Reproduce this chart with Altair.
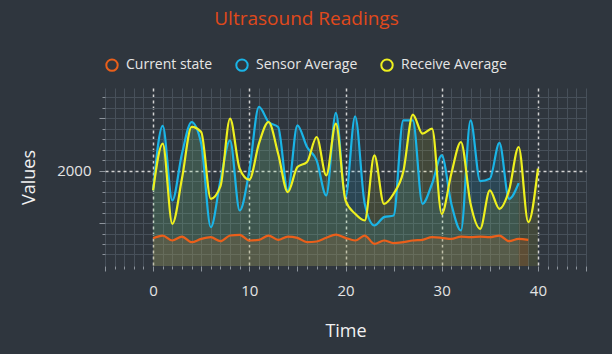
import altair as alt
import pandas as pd

# ---- data ----
series_names = ["Current state", "Sensor Average", "Receive Average"]
series_colors = ["#ea5f1a", "#1ab4e6", "#eef01e"]
series_fill_opacity = [0.16, 0.10, 0.14]

time_current = list(range(0, 40))
current_state = [711, 762, 667, 743, 635, 698, 730, 654, 762, 775,
                 667, 680, 762, 680, 743, 718, 635, 648, 718, 781,
                 718, 667, 762, 603, 667, 616, 635, 667, 680, 730,
                 718, 698, 743, 730, 743, 730, 762, 654, 698, 680]

time_sensor = list(range(0, 39))
sensor_avg = [1624, 2855, 1432, 2325, 2930, 2520, 922, 1815, 2580, 1240,
              2000, 3219, 2931, 2836, 1624, 2868, 2453, 2198, 1528, 3104,
              1496, 3040, 1368, 954, 1113, 1145, 2963, 2963, 1368, 1751,
              2293, 1368, 858, 2963, 1802, 1847, 2530, 1464, 1764]

time_receive = list(range(0, 41))
receive_avg = [1624, 2517, 985, 1850, 2836, 2740, 1464, 1700, 2995, 2038,
               1828, 2517, 2931, 2325, 1592, 2070, 2166, 2644, 1911, 2900,
               1432, 1177, 1049, 2293, 1368, 1560, 1975, 3072, 2708, 2804,
               1177, 1943, 2549, 1368, 890, 1624, 1273, 1624, 2453, 1017,
               2038]

x_ticks = list(range(-5, 46))
y_ticks = list(range(400, 3600, 200))

rows = []
for name, ts, vs in [("Current state", time_current, current_state),
                     ("Sensor Average", time_sensor, sensor_avg),
                     ("Receive Average", time_receive, receive_avg)]:
    for t, v in zip(ts, vs):
        rows.append({"Time": t, "Value": v, "Series": name})
df = pd.DataFrame(rows)

FONT = "Open Sans"
GRID = "#47505a"
DASH = "#d2d2d2"

x_enc = alt.X(
    "Time:Q",
    scale=alt.Scale(domain=[-5, 45], nice=False, zero=False),
    axis=alt.Axis(
        title="Time",
        values=x_ticks,
        labelExpr="datum.value % 10 === 0 && datum.value >= 0 && datum.value <= 40 ? datum.label : ''",
        labelFont=FONT, labelFontSize=15, labelColor="#e4e4e4",
        labelPadding=12,
        titleFont=FONT, titleFontSize=18, titleFontWeight="normal",
        titleColor="#f2f2f2", titlePadding=24,
        domain=False,
        tickColor="#8d949c",
        tickSize={"condition": {"test": "datum.value % 5 === 0", "value": 5}, "value": 3},
        gridColor={"condition": {"test": "datum.value % 10 === 0 && datum.value >= 0 && datum.value <= 40", "value": DASH}, "value": GRID},
        gridDash={"condition": {"test": "datum.value % 10 === 0 && datum.value >= 0 && datum.value <= 40", "value": [3, 3]}, "value": []},
        gridWidth={"condition": {"test": "datum.value % 10 === 0 && datum.value >= 0 && datum.value <= 40", "value": 1.5}, "value": 1},
    ),
)

y_enc = alt.Y(
    "Value:Q",
    stack=None,
    scale=alt.Scale(domain=[180, 3580], nice=False, zero=False),
    axis=alt.Axis(
        title="Values",
        values=y_ticks,
        labelExpr="datum.value === 2000 ? datum.label : ''",
        format="d",
        labelFont=FONT, labelFontSize=15, labelColor="#e4e4e4",
        labelPadding=8,
        titleFont=FONT, titleFontSize=18, titleFontWeight="normal",
        titleColor="#f2f2f2", titlePadding=18,
        domain=False,
        tickColor="#8d949c",
        tickSize={"condition": {"test": "datum.value % 1000 === 0", "value": 6}, "value": 3},
        gridColor={"condition": {"test": "datum.value === 2000", "value": DASH}, "value": GRID},
        gridDash={"condition": {"test": "datum.value === 2000", "value": [3, 3]}, "value": []},
        gridWidth={"condition": {"test": "datum.value === 2000", "value": 1.5}, "value": 1},
    ),
)

legend = alt.Legend(
    title=None,
    orient="none",
    legendX=0,
    legendY=-30,
    direction="horizontal",
    symbolType="circle",
    symbolSize=130,
    symbolStrokeWidth=2,
    symbolFillColor="transparent",
    labelFont=FONT,
    labelFontSize=14,
    labelColor="#e6e6e6",
    labelOffset=7,
    columnPadding=19,
)

color_scale = alt.Scale(domain=series_names, range=series_colors)

base = alt.Chart(df).encode(x=x_enc, y=y_enc)

areas = base.mark_area(interpolate="monotone", clip=True).encode(
    color=alt.Color("Series:N", scale=color_scale, legend=None),
    fillOpacity=alt.FillOpacity(
        "Series:N",
        scale=alt.Scale(domain=series_names, range=series_fill_opacity),
        legend=None,
    ),
)

lines = base.mark_line(interpolate="monotone", strokeWidth=2.2, clip=True).encode(
    color=alt.Color("Series:N", scale=color_scale, legend=legend),
)

chart = (
    alt.layer(areas, lines)
    .resolve_legend(color="independent", fillOpacity="independent")
    .properties(
        width=481,
        height=178,
        autosize="none",
        padding={"left": 105, "top": 88, "right": 26, "bottom": 88},
        background="#2f363e",
        title=alt.Title(
            "Ultrasound Readings",
            color="#e0491b",
            fontSize=19,
            font=FONT,
            fontWeight="normal",
            anchor="middle",
            dx=-39,
            offset=29,
        ),
    )
    .configure_view(stroke=None)
)

chart.save("out.html", embed_options={"renderer": "svg", "actions": False})
